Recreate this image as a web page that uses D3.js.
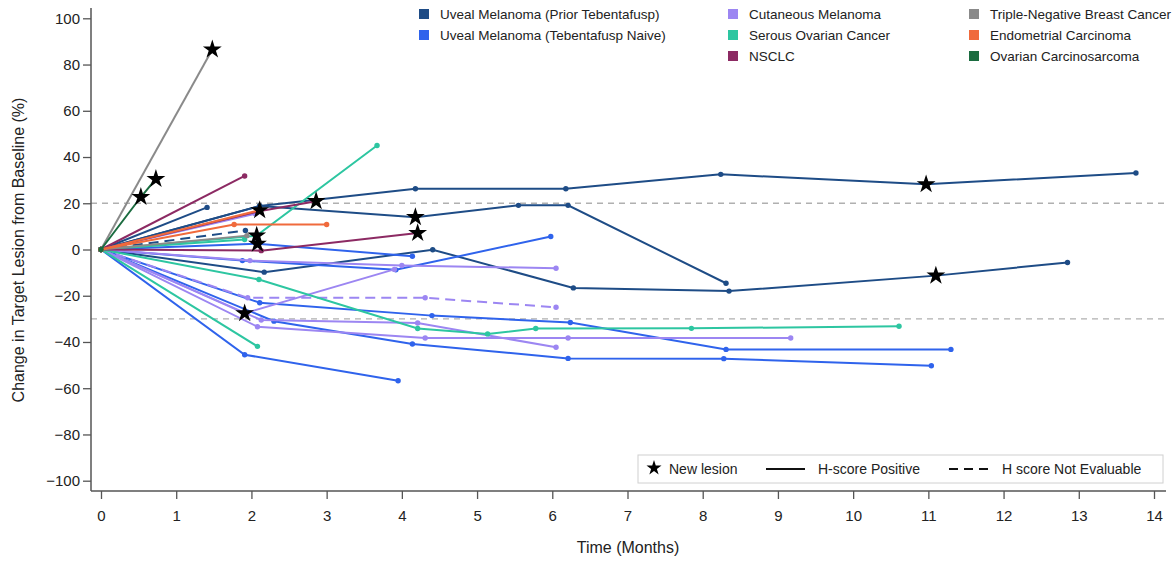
<!DOCTYPE html>
<html>
<head>
<meta charset="utf-8">
<script src="https://cdn.jsdelivr.net/npm/d3@7"></script>
<style>
  body { margin: 0; background: #fff; }
  svg { font-family: "Liberation Sans", Arial, sans-serif; }
  .axis text { font-size: 15px; fill: #222; }
  .axis line { stroke: #555; }
</style>
</head>
<body>
<div id="chart"></div>
<script>
// cancer types, in legend order
var cancerTypes = [
  'Uveal Melanoma (Prior Tebentafusp)',
  'Uveal Melanoma (Tebentafusp Naive)',
  'Cutaneous Melanoma',
  'Serous Ovarian Cancer',
  'NSCLC',
  'Triple-Negative Breast Cancer',
  'Endometrial Carcinoma',
  'Ovarian Carcinosarcoma'
]
var typeColors = ['#1e4c86', '#2f63ec', '#9c86f2', '#2dc6a1', '#8c2a63', '#8a8a8a', '#f06a3c', '#1b6c40']

var xTicks = [0,1,2,3,4,5,6,7,8,9,10,11,12,13,14]
var yTicks = [-100,-80,-60,-40,-20,0,20,40,60,80,100]
var refLines = [20, -30]

// each patient: h-score status + [months, % change, new lesion flag]
var uvealPrior = [
  {h:'Positive', pts:[[0,0],[2.11,18.8],[4.18,26.3],[6.18,26.3],[8.24,32.5],[10.97,28.2,1],[13.76,33.1]]},
  {h:'Positive', pts:[[0,0],[2.11,18.8],[4.18,14,1],[5.55,19.1],[6.21,19.1],[8.31,-14.6]]},
  {h:'Positive', pts:[[0,0],[1.41,18.2]]},
  {h:'Positive', pts:[[0,0],[2.17,-9.8],[4.41,-0.1],[6.28,-16.6],[8.35,-18],[11.1,-11.3,1],[12.85,-5.6]]},
  {h:'Not Evaluable', pts:[[0,0],[1.92,8.2]]}
]
var uvealNaive = [
  {h:'Positive', pts:[[0,0],[1.91,-45.5],[3.95,-56.8]]},
  {h:'Positive', pts:[[0,0],[2.08,2.5,1],[4.14,-2.9]]},
  {h:'Positive', pts:[[0,0],[1.88,-4.8],[3.92,-8.8],[5.98,5.6]]},
  {h:'Positive', pts:[[0,0],[2.11,-23],[4.4,-28.6],[6.24,-31.6],[8.31,-43.2],[11.3,-43.2]]},
  {h:'Positive', pts:[[0,0],[2.3,-31],[4.14,-40.9],[6.21,-47.1],[8.28,-47.2],[11.04,-50.3]]}
]
var cutaneous = [
  {h:'Positive', pts:[[0,0],[1.98,-4.8],[4.0,-6.9],[6.05,-8.1]]},
  {h:'Positive', pts:[[0,0],[1.91,-27.6,1],[3.9,-8.6]]},
  {h:'Not Evaluable', pts:[[0,0],[1.95,-20.9],[4.31,-20.9],[6.05,-25]]},
  {h:'Positive', pts:[[0,0],[2.13,-30.5],[4.21,-31.8],[6.05,-42.3]]},
  {h:'Positive', pts:[[0,0],[2.08,-33.4],[4.31,-38.3],[6.21,-38.3],[9.17,-38.3]]},
  {h:'Positive', pts:[[0,0],[2.05,15.5]]}
]
var serous = [
  {h:'Positive', pts:[[0,0],[2.1,-13],[4.21,-34.2],[5.14,-36.5],[5.78,-34.2],[7.85,-34.1],[10.61,-33.2]]},
  {h:'Positive', pts:[[0,0],[2.08,-41.9]]},
  {h:'Positive', pts:[[0,0],[2.07,6,1],[3.67,45]]},
  {h:'Positive', pts:[[0,0],[1.91,4.3]]}
]
var nsclc = [
  {h:'Positive', pts:[[0,0],[1.91,31.8]]},
  {h:'Positive', pts:[[0,0],[2.13,-0.5],[4.21,7.1,1]]},
  {h:'Positive', pts:[[0,0],[2.1,16.5],[2.86,20.9,1]]}
]
var tnbc = [
  {h:'Positive', pts:[[0,0],[1.48,86.5,1]]},
  {h:'Positive', pts:[[0,0],[1.94,6]]}
]
var endometrial = [
  {h:'Positive', pts:[[0,0],[1.77,10.8],[3.0,10.8]]},
  {h:'Positive', pts:[[0,0],[2.11,17,1]]}
]
var carcinosarcoma = [
  {h:'Positive', pts:[[0,0],[0.53,22.7,1],[0.73,30.5,1]]}
]

var patientGroups = [uvealPrior, uvealNaive, cutaneous, serous, nsclc, tnbc, endometrial, carcinosarcoma]

var width = 1175, height = 561

var svg = d3.select('#chart').append('svg')
  .attr('width', width)
  .attr('height', height)

var xScale = d3.scaleLinear().domain([0,14]).range([101,1154])
var yScale = d3.scaleLinear().domain([-100,100]).range([480.7,18.3])

var axisX = 91, axisY = 491

// reference lines
svg.selectAll('.ref')
  .data(refLines)
  .enter()
  .append('line')
  .attr('x1', axisX).attr('x2', 1166)
  .attr('y1', function(d){ return yScale(d) })
  .attr('y2', function(d){ return yScale(d) })
  .style('stroke', '#b0b0b0')
  .style('stroke-width', 1.3)
  .style('stroke-dasharray', '6,5')

// axes
var yAxis = svg.append('g')
  .attr('class', 'axis')
  .attr('transform', 'translate(' + axisX + ',0)')
  .call(d3.axisLeft(yScale).tickValues(yTicks).tickSize(8).tickPadding(3))
yAxis.select('.domain').remove()
yAxis.selectAll('line').style('stroke-width', 1.3)

var xAxis = svg.append('g')
  .attr('class', 'axis')
  .attr('transform', 'translate(0,' + axisY + ')')
  .call(d3.axisBottom(xScale).tickValues(xTicks).tickSize(8).tickPadding(11))
xAxis.select('.domain').remove()
xAxis.selectAll('line').style('stroke-width', 1.3)

svg.append('line')
  .attr('x1', axisX).attr('x2', axisX).attr('y1', 8).attr('y2', axisY)
  .style('stroke', '#555').style('stroke-width', 1.5)
svg.append('line')
  .attr('x1', axisX).attr('x2', 1166).attr('y1', axisY).attr('y2', axisY)
  .style('stroke', '#555').style('stroke-width', 1.5)

svg.append('text')
  .attr('x', 628).attr('y', 553)
  .attr('text-anchor', 'middle')
  .style('font-size', '16px').style('fill', '#222')
  .text('Time (Months)')

svg.append('text')
  .attr('transform', 'translate(24,250) rotate(-90)')
  .attr('text-anchor', 'middle')
  .style('font-size', '16px').style('fill', '#222')
  .text('Change in Target Lesion from Baseline (%)')

// patient lines
var line = d3.line()
  .x(function(d){ return xScale(d[0]) })
  .y(function(d){ return yScale(d[1]) })

var star = d3.symbol().type(d3.symbolStar).size(110)

var plot = svg.append('g').attr('class', 'patients')

patientGroups.forEach(function(group, gi){
  var color = typeColors[gi]
  group.forEach(function(p){
    var g = plot.append('g')
    g.append('path')
      .attr('d', line(p.pts))
      .style('fill', 'none')
      .style('stroke', color)
      .style('stroke-width', 2)
      .style('stroke-dasharray', p.h == 'Not Evaluable' ? '10,6' : null)
    g.selectAll('circle')
      .data(p.pts.filter(function(d){ return !d[2] }))
      .enter()
      .append('circle')
      .attr('cx', function(d){ return xScale(d[0]) })
      .attr('cy', function(d){ return yScale(d[1]) })
      .attr('r', 2.7)
      .style('fill', color)
  })
})

// new lesion stars on top
var starPts = []
patientGroups.forEach(function(group){
  group.forEach(function(p){
    p.pts.forEach(function(d){ if (d[2]) starPts.push(d) })
  })
})
plot.selectAll('.star')
  .data(starPts)
  .enter()
  .append('path')
  .attr('class', 'star')
  .attr('d', star)
  .attr('transform', function(d){ return 'translate(' + xScale(d[0]) + ',' + yScale(d[1]) + ')' })
  .style('fill', '#000')

// cancer type legend
var legendCols = [424, 733, 974]
var legendRows = [14, 35, 56]
var legendSlots = [[0,0],[0,1],[1,0],[1,1],[1,2],[2,0],[2,1],[2,2]]

var legend = svg.append('g').attr('class', 'legend')
cancerTypes.forEach(function(name, i){
  var lx = legendCols[legendSlots[i][0]], ly = legendRows[legendSlots[i][1]]
  legend.append('rect')
    .attr('x', lx - 5).attr('y', ly - 5)
    .attr('width', 10).attr('height', 10)
    .style('fill', typeColors[i])
  legend.append('text')
    .attr('x', lx + 16).attr('y', ly + 5)
    .style('font-size', '13.5px').style('fill', '#222')
    .text(name)
})

// marker / line style legend
var key = svg.append('g').attr('class', 'key')
key.append('rect')
  .attr('x', 638).attr('y', 455).attr('width', 525).attr('height', 28)
  .style('fill', '#fff').style('stroke', '#d0d0d0')
key.append('path')
  .attr('d', d3.symbol().type(d3.symbolStar).size(70))
  .attr('transform', 'translate(654,468)')
  .style('fill', '#000')
key.append('text').attr('x', 669).attr('y', 474)
  .style('font-size', '14px').style('fill', '#222').text('New lesion')
key.append('line').attr('x1', 766).attr('x2', 805).attr('y1', 469).attr('y2', 469)
  .style('stroke', '#111').style('stroke-width', 2)
key.append('text').attr('x', 818).attr('y', 474)
  .style('font-size', '14px').style('fill', '#222').text('H-score Positive')
key.append('line').attr('x1', 949).attr('x2', 992).attr('y1', 469).attr('y2', 469)
  .style('stroke', '#111').style('stroke-width', 2).style('stroke-dasharray', '9,6')
key.append('text').attr('x', 1002).attr('y', 474)
  .style('font-size', '14px').style('fill', '#222').text('H score Not Evaluable')
</script>
</body>
</html>
